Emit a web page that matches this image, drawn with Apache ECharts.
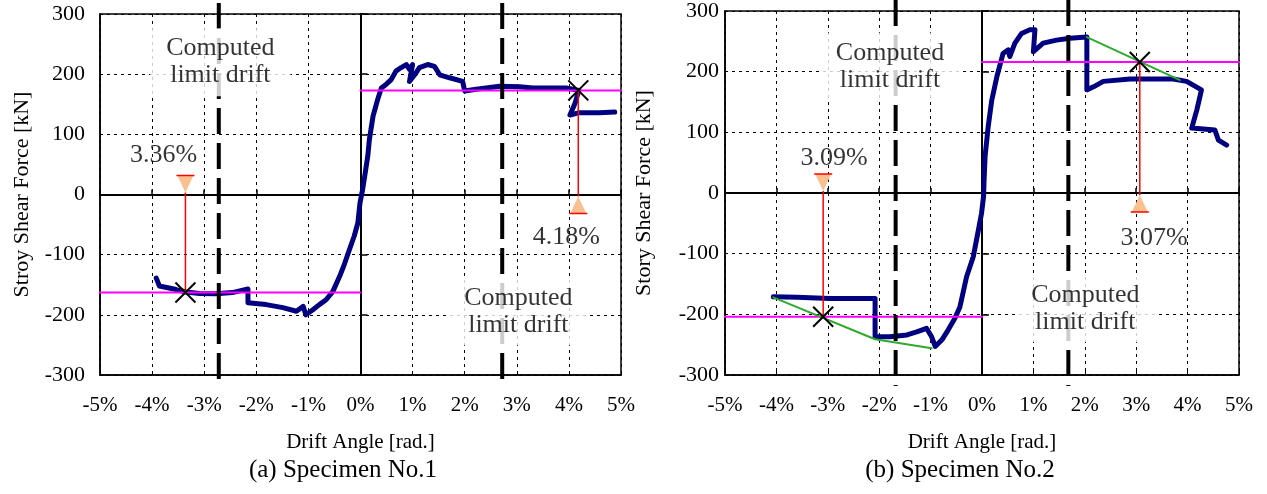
<!DOCTYPE html>
<html>
<head>
<meta charset="utf-8">
<script src="https://cdn.jsdelivr.net/npm/echarts@6/dist/echarts.min.js"></script>
<style>
html,body{margin:0;padding:0;background:#fff;}
#chart{width:1267px;height:494px;}
</style>
</head>
<body>
<div id="chart"></div>
<script>
// ---------------- DATA ----------------
// Specimen No.1 envelope curve [drift %, shear kN]
const spec1Curve = [
  [-3.92,-139],[-3.86,-152],[-3.54,-158],[-3.35,-162],[-3.09,-164.5],[-2.77,-165],[-2.46,-163],
  [-2.16,-157],[-2.16,-180],[-1.81,-183],[-1.49,-188],[-1.23,-194],[-1.10,-186],[-1.05,-200],
  [-0.92,-192],[-0.79,-183],[-0.66,-175],[-0.53,-161],[-0.40,-136],[-0.31,-116],[-0.21,-91],
  [-0.12,-69],[-0.05,-47],[-0.01,-14],[0.04,8],[0.08,30],[0.14,64],[0.17,91],[0.24,130],
  [0.33,158],[0.40,177],[0.49,183],[0.59,191],[0.68,205],[0.78,211],[0.88,216],[0.94,208],
  [1.00,216],[0.94,188],[1.04,199],[1.13,211],[1.29,216],[1.42,213],[1.52,199],[1.71,194],
  [1.96,188],[2.00,172],[2.22,175],[2.67,180],[3.05,179],[3.31,177],[3.95,177],[4.19,173],
  [4.12,152],[4.02,132],[4.20,136],[4.59,136],[4.88,137]
];
// Specimen No.2 envelope curve
const spec2Curve = [
  [-4.06,-171],[-3.60,-172],[-2.96,-174],[-2.44,-174],[-2.08,-174],[-2.08,-237],[-1.79,-237],
  [-1.46,-234],[-1.27,-229],[-1.08,-223],[-0.98,-237],[-0.91,-253],[-0.78,-242],[-0.66,-226],
  [-0.53,-207],[-0.43,-188],[-0.30,-138],[-0.17,-105],[-0.07,-61],[-0.01,-34],[0.03,-6],
  [0.04,20],[0.06,60],[0.12,109],[0.19,153],[0.29,192],[0.41,230],[0.51,236],[0.54,225],
  [0.64,247],[0.77,263],[0.93,269],[1.03,269],[1.00,233],[1.19,247],[1.45,252],[1.71,255],
  [2.04,257],[2.04,230],[2.04,170],[2.17,175],[2.36,184],[2.88,188],[3.72,188],[3.98,184],
  [4.27,170],[4.18,137],[4.08,107],[4.53,104],[4.60,87],[4.76,79]
];
// Computed limit drift (%)
const spec1Limit = [[-2.72, 0],[2.72, 0]];
const spec2Limit = [[-1.68, 0],[1.68, 0]];
// Ultimate drift points (X markers) [drift %, kN]
const spec1Peaks = [[-3.36,-163],[4.18,173]];
const spec2Peaks = [[-3.09,-204],[3.07,216]];
const spec1PeakLabels = ['3.36%','4.18%'];
const spec2PeakLabels = ['3.09%','3.07%'];
// 80% strength horizontal lines (magenta)
const spec1LevelPos = [[0,173],[5.03,173]];
const spec1LevelNeg = [[-5.2,-163],[0,-163]];
const spec2LevelPos = [[0,216],[5.03,216]];
const spec2LevelNeg = [[-5.05,-204],[0,-204]];
// Skeleton (green) lines for Specimen No.2
const spec2SkelPos = [[2.04,257],[3.85,186]];
const spec2SkelNeg = [[-4.06,-172],[-2.08,-241],[-0.98,-256]];
// Annotation anchor points (data coords)
const spec1LimitTextAt = [[-2.69,220],[3.03,-194]];
const spec2LimitTextAt = [[-1.79,208],[2.01,-190]];
const spec1PeakTextAt = [[-3.78,65],[3.95,-71]];
const spec2PeakTextAt = [[-2.88,58],[3.35,-74]];
const limitText = 'Computed\nlimit drift';
const xTitle = 'Drift Angle [rad.]';
const yTitles = ['Stroy Shear Force [kN]','Story Shear Force [kN]'];
const captions = ['(a) Specimen No.1','(b) Specimen No.2'];
const X_MIN=-5, X_MAX=5, X_INT=1, Y_MIN=-300, Y_MAX=300, Y_INT=100;

// ---------------- STYLE ----------------
const FONT = '"Liberation Serif","Times New Roman",serif';
const chart = echarts.init(document.getElementById('chart'));

const grids = [
  {left:100, top:14, width:521, height:361},
  {left:725, top:11, width:514, height:364}
].map(g => Object.assign(g, {show:true, borderColor:'#000', borderWidth:1.5, backgroundColor:'transparent', containLabel:false}));

const xAxes = [], yAxes = [];
[0,1].forEach(gi => {
  xAxes.push({
    gridIndex:gi, type:'value', min:X_MIN, max:X_MAX, interval:X_INT, position:'bottom',
    axisLine:{show:true, onZero:false, lineStyle:{color:'#000', width:1.5}},
    axisTick:{show:true, inside:true, length:4, lineStyle:{color:'#000', width:1}},
    axisLabel:{formatter:'{value}%', fontSize:21, fontFamily:FONT, color:'#000', margin:20},
    splitLine:{show:true, lineStyle:{color:'#000', width:1, type:[3,4]}},
    name:xTitle, nameLocation:'middle', nameGap:57,
    nameTextStyle:{fontSize:21, fontFamily:FONT, color:'#000'}
  });
  xAxes.push({
    gridIndex:gi, type:'value', min:X_MIN, max:X_MAX, interval:X_INT, position:'bottom',
    axisLine:{show:true, onZero:true, lineStyle:{color:'#000', width:2}},
    axisTick:{show:true, inside:true, length:5, lineStyle:{color:'#000', width:1.5}},
    axisLabel:{show:false}, splitLine:{show:false}
  });
  yAxes.push({
    gridIndex:gi, type:'value', min:Y_MIN, max:Y_MAX, interval:Y_INT, position:'left',
    axisLine:{show:true, onZero:false, lineStyle:{color:'#000', width:1.5}},
    axisTick:{show:false},
    axisLabel:{fontSize:22, fontFamily:FONT, color:'#000', margin: gi===0 ? 15 : 6},
    splitLine:{show:true, lineStyle:{color:'#000', width:1, type:[3,4]}},
    name:yTitles[gi], nameLocation:'middle', nameGap: gi===0 ? 67 : 70,
    nameTextStyle:{fontSize:22, fontFamily:FONT, color:'#000'}
  });
  yAxes.push({
    gridIndex:gi, type:'value', min:Y_MIN, max:Y_MAX, interval:Y_INT, position:'left',
    axisLine:{show:true, onZero:true, lineStyle:{color:'#000', width:2}},
    axisTick:{show:true, inside:true, length:7, lineStyle:{color:'#000', width:1.5}},
    axisLabel:{show:false}, splitLine:{show:false}
  });
});

function lineSeries(data, gi, color, width, z){
  return {type:'line', xAxisIndex:gi*2, yAxisIndex:gi*2, data:data, showSymbol:false, symbol:'none',
    clip:false, silent:true, animation:false, z:z,
    lineStyle:{color:color, width:width, join:'round', cap:'round'}};
}
function limitSeries(data, gi){
  return {type:'custom', xAxisIndex:gi*2, yAxisIndex:gi*2, data:data, z:6, clip:false, silent:true,
    encode:{x:0, y:1}, animation:false,
    renderItem:function(params, api){
      const x = api.coord([api.value(0), 0])[0];
      const yt = api.coord([api.value(0), Y_MAX])[1];
      const yb = api.coord([api.value(0), Y_MIN])[1];
      return {type:'line', shape:{x1:x, y1:yt-11, x2:x, y2:yb+11},
        style:{stroke:'#000', lineWidth:4, lineDash:[26,9]}};
    }};
}
function peakSeries(data, gi){
  return {type:'custom', xAxisIndex:gi*2, yAxisIndex:gi*2, data:data, z:5, clip:false, silent:true,
    encode:{x:0, y:1}, animation:false,
    renderItem:function(params, api){
      const xv = api.value(0), yv = api.value(1);
      const p0 = api.coord([xv, 0]), p1 = api.coord([xv, yv]);
      const up = yv > 0;
      const tip = up ? p0[1]+2 : p0[1]-2;
      const base = up ? tip+17 : tip-17;
      const hw = 8, s = 10;
      return {type:'group', children:[
        {type:'line', shape:{x1:p0[0], y1:tip, x2:p1[0], y2:p1[1]}, style:{stroke:'#FF0000', lineWidth:1.5}},
        {type:'polygon', shape:{points:[[p0[0]-hw, base],[p0[0]+hw, base],[p0[0], tip]]}, style:{fill:'#FAC090'}},
        {type:'line', shape:{x1:p0[0]-hw-1, y1:base, x2:p0[0]+hw+1, y2:base}, style:{stroke:'#FF0000', lineWidth:1.5}},
        {type:'line', shape:{x1:p1[0]-s, y1:p1[1]-s, x2:p1[0]+s, y2:p1[1]+s}, style:{stroke:'#000', lineWidth:2}},
        {type:'line', shape:{x1:p1[0]-s, y1:p1[1]+s, x2:p1[0]+s, y2:p1[1]-s}, style:{stroke:'#000', lineWidth:2}}
      ]};
    }};
}
function textSeries(points, texts, gi, size, bg){
  return {type:'scatter', xAxisIndex:gi*2, yAxisIndex:gi*2, symbolSize:0, z:8, silent:true, animation:false,
    itemStyle:{color:'#000'},
    data: points.map((p,i)=>({value:p, name:texts[i]})),
    label:{show:true, position:[0,0], formatter:'{b}', fontSize:size, lineHeight:27, fontFamily:FONT,
      color:'#000', textBorderWidth:0, textBorderColor:'transparent', align:'center', verticalAlign:'middle',
      backgroundColor: bg ? '#fff' : 'transparent', padding: bg ? [7,16,7,16] : 0}};
}

const series = [
  lineSeries(spec1Curve, 0, '#000080', 5, 2),
  lineSeries(spec1LevelPos, 0, '#FF00FF', 2, 3),
  lineSeries(spec1LevelNeg, 0, '#FF00FF', 2, 3),
  peakSeries(spec1Peaks, 0),
  limitSeries(spec1Limit, 0),
  textSeries(spec1LimitTextAt, [limitText, limitText], 0, 26, true),
  textSeries(spec1PeakTextAt, spec1PeakLabels, 0, 26, false),

  lineSeries(spec2Curve, 1, '#000080', 5, 2),
  lineSeries(spec2LevelPos, 1, '#FF00FF', 2, 3),
  lineSeries(spec2LevelNeg, 1, '#FF00FF', 2, 3),
  lineSeries(spec2SkelPos, 1, '#2EAA2E', 2, 3),
  lineSeries(spec2SkelNeg, 1, '#2EAA2E', 2, 3),
  peakSeries(spec2Peaks, 1),
  limitSeries(spec2Limit, 1),
  textSeries(spec2LimitTextAt, [limitText, limitText], 1, 26, true),
  textSeries(spec2PeakTextAt, spec2PeakLabels, 1, 26, false)
];

chart.setOption({
  animation:false,
  backgroundColor:'#fff',
  grid:grids,
  xAxis:xAxes,
  yAxis:yAxes,
  series:series,
  graphic:[
    {type:'text', x:343, y:470, style:{text:captions[0], font:'25px ' + FONT, fill:'#000', textAlign:'center', textVerticalAlign:'middle'}},
    {type:'text', x:960, y:470, style:{text:captions[1], font:'25px ' + FONT, fill:'#000', textAlign:'center', textVerticalAlign:'middle'}}
  ]
});
</script>
</body>
</html>
